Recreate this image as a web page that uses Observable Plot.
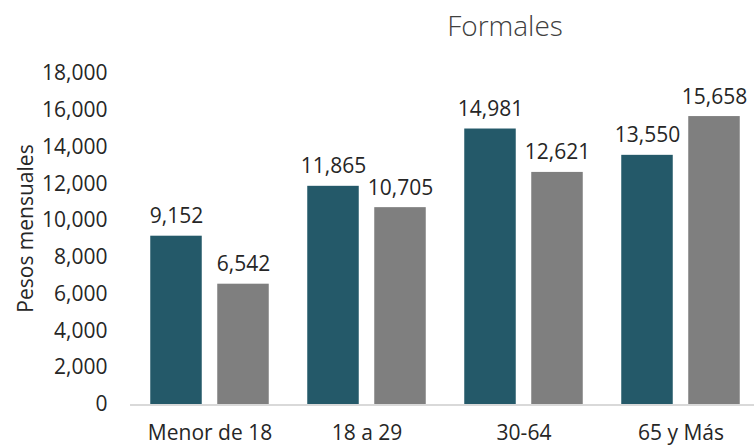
<!DOCTYPE html>
<html>
<head>
<meta charset="utf-8">
<script src="https://cdn.jsdelivr.net/npm/d3@7"></script>
<script src="https://cdn.jsdelivr.net/npm/@observablehq/plot@0.6"></script>
<style>
  html, body { margin: 0; padding: 0; background: #ffffff; overflow: hidden; }
  #wrap { width: 754px; height: 445px; position: relative; font-family: "Open Sans", sans-serif; }
  #title { height: 50px; line-height: 50px; font-size: 28px; font-weight: 300; color: #404040;
           text-align: center; padding-left: 256px; box-sizing: border-box; width: 754px; white-space: nowrap; }
</style>
</head>
<body>
<div id="wrap">
  <div id="title">Formales</div>
  <div id="chart"></div>
</div>
<script>
const categories = ["Menor de 18", "18 a 29", "30-64", "65 y Más"];
const serieA = [9152, 11865, 14981, 13550];
const serieB = [6542, 10705, 12621, 15658];
const yTicks = [0, 2000, 4000, 6000, 8000, 10000, 12000, 14000, 16000, 18000];
const yLabel = "Pesos mensuales";

const dataA = categories.map((c, i) => ({cat: c, value: serieA[i]}));
const dataB = categories.map((c, i) => ({cat: c, value: serieB[i]}));

const teal = "#245969";
const gray = "#7f7f7f";
const textColor = "#262626";
const fmt = d3.format(",");
const font = "'Open Sans', sans-serif";

const chart = Plot.plot({
  width: 754,
  height: 395,
  marginLeft: 130,
  marginRight: -6,
  marginTop: 23,
  marginBottom: 41,
  style: {fontFamily: font, fontSize: "21px", color: textColor, background: "#ffffff"},
  x: {domain: categories, padding: 0},
  y: {domain: [0, 18000]},
  marks: [
    Plot.barY(dataA, {x: "cat", y: "value", fill: teal, insetLeft: 19.25, insetRight: 86.25}),
    Plot.barY(dataB, {x: "cat", y: "value", fill: gray, insetLeft: 86.25, insetRight: 19.25}),
    Plot.ruleY([0], {stroke: "#d9d9d9", strokeWidth: 2, dy: 0.5}),
    Plot.text(dataA, {x: "cat", y: "value", text: d => fmt(d.value), dx: -33.5, dy: -13,
      lineAnchor: "bottom", fontSize: 21, fill: textColor, fontFamily: font}),
    Plot.text(dataB, {x: "cat", y: "value", text: d => fmt(d.value), dx: 33.5, dy: -13,
      lineAnchor: "bottom", fontSize: 21, fill: textColor, fontFamily: font}),
    Plot.axisX({tickSize: 0, tickPadding: 21, fontSize: 21, label: null, fill: textColor}),
    Plot.axisY({ticks: yTicks, tickSize: 0, tickPadding: 23, tickFormat: fmt, fontSize: 21, label: null, fill: textColor}),
    Plot.text([yLabel], {frameAnchor: "left", textAnchor: "middle", text: d => d, rotate: -90, dx: -104.5, dy: -10.5,
      fontSize: 21, fill: textColor, fontFamily: font})
  ]
});
document.getElementById("chart").appendChild(chart);
</script>
</body>
</html>
